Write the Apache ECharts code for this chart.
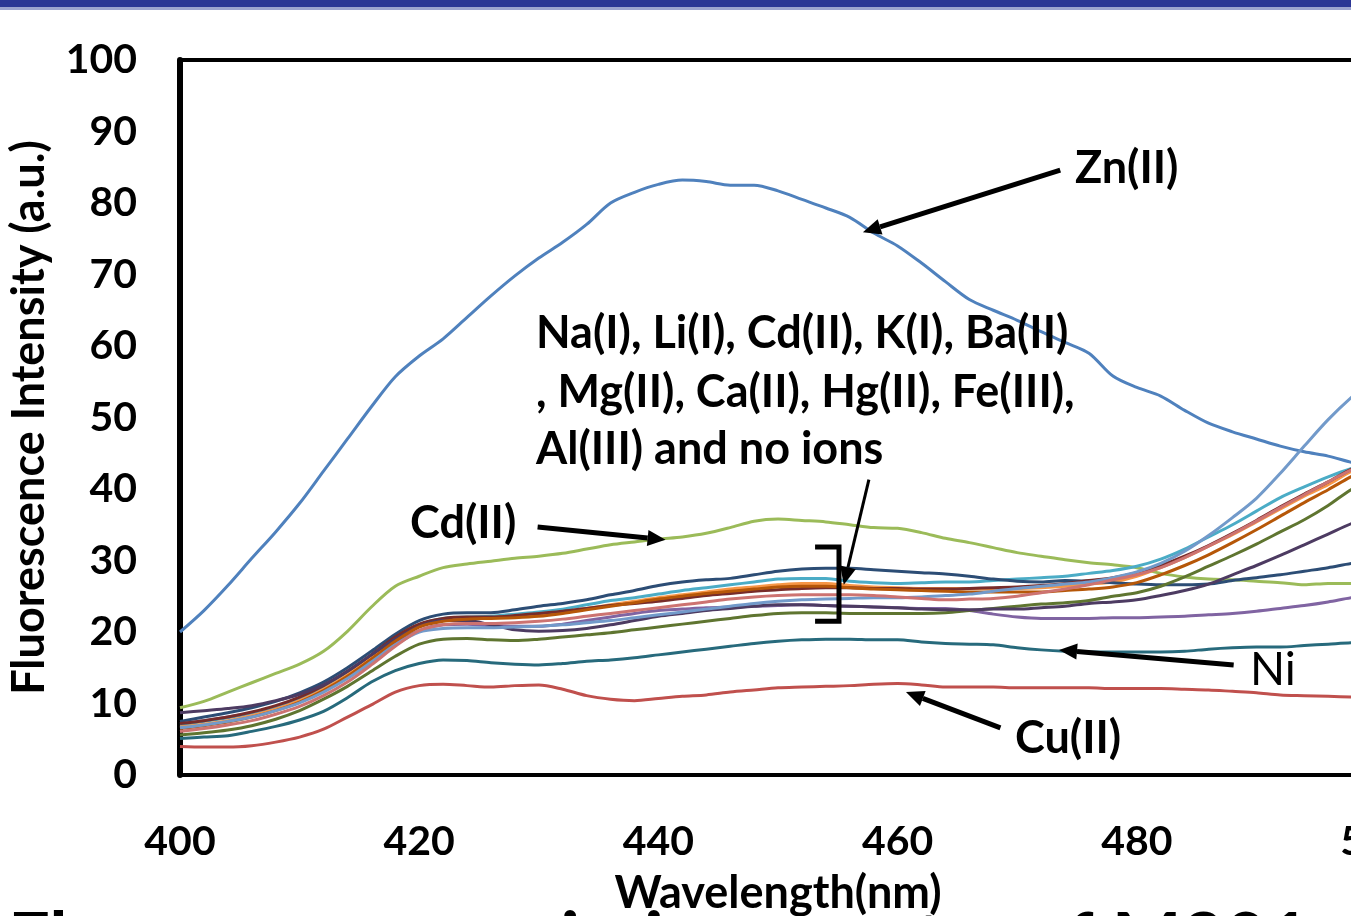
<!DOCTYPE html>
<html>
<head>
<meta charset="utf-8">
<script src="https://cdn.jsdelivr.net/npm/echarts@6/dist/echarts.min.js"></script>
<style>
  html, body { margin: 0; padding: 0; background: #fff; }
  #chart { width: 1351px; height: 916px; }
</style>
</head>
<body>
<div id="chart"></div>
<script>
// wavelength (nm), every 2 nm
const wavelengths = []
for (let w = 400; w <= 500; w += 2) wavelengths.push(w)

// intensities
const znData = [20.0, 23, 26.5, 30.3, 34, 38, 42.5, 47, 51.5, 55.7, 58.6, 61, 64, 67, 69.8, 72.3, 74.5, 77, 80, 81.5, 82.6, 83.2, 83, 82.5, 82.5, 81.7, 80.5, 79.3, 78, 75.8, 74, 71.6, 69, 66.5, 65, 63.6, 62, 60.5, 59, 55.8, 54.2, 53, 51, 49.2, 48, 47, 46, 45.2, 44.6, 43.7, 43]
const cuData = [4.0, 3.9, 3.9, 4.1, 4.6, 5.3, 6.4, 8.1, 9.8, 11.6, 12.5, 12.7, 12.5, 12.3, 12.5, 12.6, 12.0, 11.1, 10.6, 10.4, 10.7, 11.0, 11.2, 11.6, 11.9, 12.2, 12.3, 12.4, 12.5, 12.7, 12.8, 12.6, 12.3, 12.3, 12.3, 12.2, 12.2, 12.2, 12.2, 12.1, 12.1, 12.1, 12.0, 11.9, 11.7, 11.5, 11.2, 11.1, 11.0, 10.9, 10.8]
const cdData = [9.4, 10.3, 11.6, 12.9, 14.2, 15.5, 17.3, 20.1, 23.5, 26.4, 27.8, 29, 29.5, 29.9, 30.3, 30.6, 31, 31.6, 32.2, 32.6, 33, 33.3, 33.8, 34.6, 35.5, 35.8, 35.6, 35.4, 35, 34.6, 34.5, 33.9, 33.1, 32.5, 31.8, 31.1, 30.6, 30.1, 29.7, 29.4, 29, 28.2, 27.7, 27.4, 27.3, 27.1, 26.9, 26.6, 26.8, 26.8, 26.8]
const naData = [7.2, 7.6, 8.1, 8.7, 9.5, 10.6, 12.0, 13.9, 16.1, 18.4, 20.2, 21.0, 21.1, 20.9, 20.8, 20.8, 21.1, 21.6, 22.1, 22.6, 23.0, 23.2, 23.4, 23.5, 23.6, 23.7, 23.8, 23.7, 23.6, 23.5, 23.4, 23.3, 23.3, 23.0, 22.5, 22.1, 21.9, 21.9, 21.9, 22.0, 22.0, 22.1, 22.2, 22.4, 22.6, 22.9, 23.3, 23.7, 24.2, 24.8, 25.2]
const liData = [7.0, 7.5, 8.0, 8.7, 9.6, 10.8, 12.4, 14.4, 16.7, 19.1, 21.0, 21.9, 22.1, 22.2, 22.5, 22.8, 23.2, 23.8, 24.4, 24.8, 25.3, 25.8, 26.2, 26.6, 27.0, 27.4, 27.5, 27.5, 27.1, 26.9, 26.8, 26.9, 27.0, 27.0, 27.2, 27.4, 27.6, 27.8, 28.2, 28.6, 29.2, 30.2, 31.6, 33.3, 35.0, 36.9, 38.8, 40.3, 41.7, 42.9, 43.8]
const kData = [6.7, 7.1, 7.6, 8.3, 9.2, 10.4, 12.0, 14.0, 16.4, 18.9, 20.8, 21.6, 21.9, 22.0, 22.2, 22.4, 22.8, 23.3, 23.8, 24.3, 24.8, 25.2, 25.6, 26.0, 26.3, 26.6, 26.8, 26.8, 26.5, 26.3, 26.2, 26.1, 26.1, 26.1, 26.1, 26.1, 26.2, 26.4, 26.7, 27.0, 27.8, 29.0, 30.4, 32.0, 33.6, 35.4, 37.2, 39.0, 40.6, 42.5, 43.6]
const baData = [7.5, 8.1, 8.7, 9.4, 10.3, 11.5, 13.0, 15.0, 17.3, 19.7, 21.6, 22.5, 22.7, 22.7, 23.1, 23.6, 24.0, 24.5, 25.2, 25.8, 26.5, 27.0, 27.3, 27.5, 28.0, 28.5, 28.8, 28.9, 28.9, 28.7, 28.5, 28.3, 28.1, 27.8, 27.4, 27.1, 27.0, 27.2, 27.1, 26.9, 26.7, 26.6, 26.6, 26.7, 27.2, 27.6, 28.0, 28.5, 29.0, 29.6, 30.0]
const mgData = [7.2, 7.6, 8.1, 8.8, 9.7, 10.9, 12.5, 14.5, 16.8, 19.3, 21.1, 21.9, 22.1, 22.1, 22.3, 22.6, 22.9, 23.3, 23.7, 24.0, 24.3, 24.7, 25.1, 25.4, 25.7, 25.9, 26.1, 26.2, 26.2, 26.1, 26.1, 26.0, 26.0, 26.1, 26.2, 26.3, 26.5, 26.8, 27.2, 27.6, 28.3, 29.3, 30.6, 32.1, 33.8, 35.6, 37.5, 39.3, 41.0, 42.8, 44.0]
const caData = [5.6, 5.9, 6.3, 6.9, 7.8, 9.0, 10.6, 12.4, 14.5, 16.6, 18.3, 19.0, 19.1, 18.9, 18.8, 19.0, 19.3, 19.6, 19.9, 20.3, 20.7, 21.1, 21.5, 21.9, 22.3, 22.6, 22.7, 22.7, 22.6, 22.6, 22.6, 22.6, 22.7, 23.0, 23.3, 23.6, 23.9, 24.1, 24.4, 25.0, 25.5, 26.4, 27.7, 29.2, 30.7, 32.3, 34.0, 35.7, 37.7, 40.0, 41.5]
const hgData = [8.7, 9.0, 9.3, 9.7, 10.4, 11.3, 12.6, 14.5, 16.8, 19.0, 20.8, 21.6, 21.6, 21.0, 20.3, 20.1, 20.2, 20.5, 21.0, 21.6, 22.2, 22.6, 23.0, 23.3, 23.6, 23.8, 23.8, 23.7, 23.6, 23.5, 23.4, 23.2, 23.1, 23.1, 23.2, 23.2, 23.4, 23.6, 24.0, 24.2, 24.5, 25.1, 25.8, 26.7, 28.0, 29.3, 30.7, 32.2, 33.7, 35.2, 36.3]
const niData = [5.1, 5.3, 5.5, 6.1, 6.8, 7.7, 8.9, 10.8, 13, 14.6, 15.6, 16.1, 16.0, 15.7, 15.5, 15.4, 15.6, 15.9, 16.1, 16.4, 16.8, 17.2, 17.6, 18.0, 18.4, 18.7, 18.9, 19.0, 19.0, 18.9, 18.9, 18.6, 18.4, 18.3, 18.2, 17.8, 17.5, 17.3, 17.2, 17.2, 17.2, 17.2, 17.3, 17.6, 17.8, 17.9, 17.9, 18.1, 18.3, 18.5, 18.6]
const feData = [6.5, 6.9, 7.4, 8.1, 9.0, 10.2, 11.8, 13.8, 16.2, 18.7, 20.7, 21.5, 21.8, 21.9, 22.0, 22.2, 22.6, 23.1, 23.6, 24.1, 24.6, 25.0, 25.4, 25.7, 26.0, 26.3, 26.4, 26.4, 26.2, 26.0, 25.9, 25.8, 25.7, 25.6, 25.6, 25.6, 25.6, 25.8, 26.0, 26.3, 26.9, 28.0, 29.3, 30.8, 32.5, 34.3, 36.2, 38.1, 39.9, 41.8, 43.4]
const alData = [6.6, 7.0, 7.5, 8.1, 9.0, 10.1, 11.6, 13.5, 15.8, 18.2, 20.0, 20.5, 20.6, 20.6, 20.7, 20.8, 21.0, 21.3, 21.6, 22.0, 22.4, 22.8, 23.2, 23.6, 24.0, 24.3, 24.5, 24.6, 24.7, 24.8, 24.8, 24.9, 25.1, 25.3, 25.7, 26.1, 26.4, 26.7, 27.0, 27.6, 28.4, 29.6, 31.3, 33.5, 36.0, 38.7, 42.2, 46.0, 49.7, 52.9, 55.6]
const noIonData = [6.1, 6.5, 7.0, 7.6, 8.5, 9.6, 11.1, 13.0, 15.4, 18.0, 20.2, 21.0, 21.2, 21.2, 21.3, 21.5, 21.8, 22.2, 22.6, 23.0, 23.4, 23.8, 24.2, 24.6, 24.9, 25.1, 25.2, 25.2, 25.2, 25.1, 24.9, 24.7, 24.5, 24.6, 24.7, 25.0, 25.5, 26.0, 26.6, 27.3, 28.0, 29.0, 30.4, 32.0, 33.7, 35.5, 37.4, 39.2, 41.0, 42.7, 44.0]

const seriesNames = ['Zn(II)', 'Cu(II)', 'Cd(II)', 'Na(I)', 'Li(I)', 'K(I)', 'Ba(II)', 'Mg(II)', 'Ca(II)', 'Hg(II)', 'Ni', 'Fe(III)', 'Al(III)', 'no ions']
const seriesData = [znData, cuData, cdData, naData, liData, kData, baData, mgData, caData, hgData, niData, feData, alData, noIonData]
const seriesColors = ['#4F81BD', '#C0504D', '#9BBB59', '#8064A2', '#4BACC6', '#F79646', '#2C4D75', '#772C2A', '#5F7530', '#4D3B62', '#276A7C', '#B65708', '#729ACA', '#CD7371']

const xTicks = [400, 420, 440, 460, 480, 500]

const font = 'Lato, "Open Sans", sans-serif'
const chart = echarts.init(document.getElementById('chart'))

const series = seriesNames.map((name, i) => ({
    name: name,
    type: 'line',
    data: wavelengths.map((w, j) => [w, seriesData[i][j]]),
    showSymbol: false,
    smooth: 0.3,
    lineStyle: { color: seriesColors[i], width: 3 },
    itemStyle: { color: seriesColors[i] },
    z: 2 + i
}))

const option = {
    animation: false,
    grid: {
        left: 180,
        top: 60,
        bottom: 141,
        width: 1196,
        outerBoundsMode: 'none', // the plot runs past the right edge, like the cropped slide
        show: true,
        borderColor: '#000',
        borderWidth: 4
    },
    xAxis: {
        type: 'value',
        min: xTicks[0],
        max: xTicks[xTicks.length - 1],
        interval: 20,
        name: 'Wavelength(nm)',
        nameLocation: 'middle',
        nameGap: 96,
        nameTextStyle: { color: '#000', fontFamily: font, fontWeight: 'bold', fontSize: 45 },
        axisLine: { lineStyle: { color: '#000', width: 4 } },
        axisTick: { show: false },
        splitLine: { show: false },
        axisLabel: { color: '#000', fontFamily: font, fontWeight: 'bold', fontSize: 41, margin: 46 }
    },
    yAxis: {
        type: 'value',
        min: 0,
        max: 100,
        interval: 10,
        name: 'Fluorescence Intensity (a.u.)',
        nameLocation: 'middle',
        nameGap: 128,
        nameTextStyle: { color: '#000', fontFamily: font, fontWeight: 'bold', fontSize: 45 },
        axisLine: { lineStyle: { color: '#000', width: 6 } },
        axisTick: { show: false },
        splitLine: { show: false },
        axisLabel: { color: '#000', fontFamily: font, fontWeight: 'bold', fontSize: 41, margin: 43 }
    },
    series: series
}
chart.setOption(option)

// annotation arrows, in data coordinates [nm, intensity]
const arrows = [
    { from: [473.6, 84.6], to: [457.1, 75.9], w: 5 },
    { from: [429.9, 34.7], to: [440.6, 32.9], w: 5 },
    { from: [457.6, 41.3], to: [455.5, 26.6], w: 3 },
    { from: [488.1, 15.4], to: [473.5, 17.5], w: 5 },
    { from: [468.6, 6.6], to: [460.7, 11.6], w: 5 }
]
const bracket = [[453.1, 31.9], [455.1, 31.9], [455.1, 21.5], [453.1, 21.5]]

const px = (p) => chart.convertToPixel({ gridIndex: 0 }, p)

const graphics = []
arrows.forEach((a) => {
    const p0 = px(a.from)
    const p1 = px(a.to)
    const dx = p1[0] - p0[0]
    const dy = p1[1] - p0[1]
    const len = Math.sqrt(dx * dx + dy * dy)
    const ux = dx / len
    const uy = dy / len
    const hl = 18
    const hw = 8
    const bx = p1[0] - ux * hl
    const by = p1[1] - uy * hl
    graphics.push({
        type: 'line',
        shape: { x1: p0[0], y1: p0[1], x2: bx, y2: by },
        style: { stroke: '#000', lineWidth: a.w },
        z: 100
    })
    graphics.push({
        type: 'polygon',
        shape: { points: [p1, [bx - uy * hw, by + ux * hw], [bx + uy * hw, by - ux * hw]] },
        style: { fill: '#000' },
        z: 100
    })
})
graphics.push({
    type: 'polyline',
    shape: { points: bracket.map(px) },
    style: { stroke: '#000', lineWidth: 5, fill: null },
    z: 100
})

const labelStyle = (text, x, y, weight, size) => ({
    type: 'text',
    x: x,
    y: y,
    z: 100,
    style: {
        text: text,
        fill: '#000',
        font: weight + ' ' + size + 'px ' + font,
        textVerticalAlign: 'middle'
    }
})
graphics.push(labelStyle('Zn(II)', 1075, 168, 'bold', 45))
graphics.push(labelStyle('Cd(II)', 410, 523, 'bold', 45))
graphics.push(labelStyle('Cu(II)', 1015, 738, 'bold', 45))
graphics.push(labelStyle('Ni', 1250, 670, 'normal', 46))
graphics.push(labelStyle('Na(I), Li(I), Cd(II), K(I), Ba(II)', 536, 333, 'bold', 45))
graphics.push(labelStyle(', Mg(II), Ca(II), Hg(II), Fe(III),', 536, 392, 'bold', 45))
graphics.push(labelStyle('Al(III) and no ions', 536, 449, 'bold', 45))

// slide frame: blue bar on top, cut-off slide title at the bottom
graphics.push({
    type: 'rect',
    shape: { x: 0, y: 0, width: 1351, height: 7 },
    style: { fill: '#2B3595' },
    z: 100
})
graphics.push({
    type: 'rect',
    shape: { x: 0, y: 7, width: 1351, height: 3 },
    style: { fill: '#9DA3CF' },
    z: 100
})
graphics.push(labelStyle('Fluorescence emission spectra of M201', 8, 942, 'bold', 74))

chart.setOption({ graphic: graphics })
</script>
</body>
</html>
